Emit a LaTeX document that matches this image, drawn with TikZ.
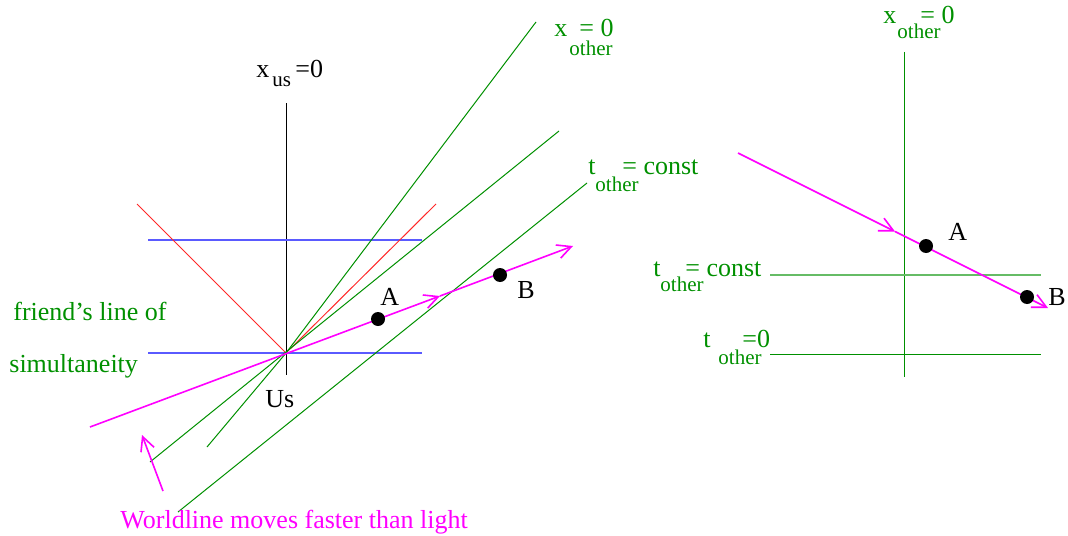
\documentclass[tikz,border=0pt]{standalone}
\usepackage{fontspec}
\setmainfont{Liberation Serif}
\usetikzlibrary{arrows.meta}

\definecolor{figgreen}{RGB}{0,144,0}
\definecolor{figblue}{RGB}{90,90,255}
\definecolor{figred}{RGB}{255,40,40}
\definecolor{figmag}{RGB}{255,0,255}

\tikzset{
  lbl/.style={anchor=base west, inner sep=0pt, font=\fontsize{13}{15}\selectfont},
  sub/.style={anchor=base west, inner sep=0pt, font=\fontsize{10.5}{12}\selectfont},
  gline/.style={figgreen, line width=0.5pt},
  wline/.style={figmag, line width=0.8pt},
  wtip/.style={-{Straight Barb[length=7pt,width=7pt]}},
  dot/.style={circle, fill=black, inner sep=0pt, minimum size=7pt},
}

\begin{document}
\begin{tikzpicture}[x=0.5pt, y=-0.5pt]
  \useasboundingbox (0,0) rectangle (1068,535);

  % ---- left diagram ----
  \coordinate (us0) at (286,353);

  % our time axis
  \draw[black, line width=0.5pt] (286,103) -- (286,375);
  \node[lbl] (xus) at (256,77) {x};
  \node[sub] (xussub) at (272,86) {us};
  \node[lbl] (xuseq) at (295,77) {=0};
  \node[lbl] (usname) at (265,407) {Us};

  % our lines of simultaneity
  \draw[figblue, line width=0.8pt] (148,240) -- (422,240);
  \draw[figblue, line width=0.8pt] (148,353) -- (422,353);

  % light cone
  \draw[figred, line width=0.5pt] (137,204) -- (us0) -- (436,204);

  % friend's axes
  \draw[gline] (207,447) -- (us0) -- (536,22);
  \draw[gline] (150,462) -- (559,131);
  \draw[gline] (178,512) -- (587,183);
  \node[lbl, figgreen] (xo1) at (554,37) {x};
  \node[sub, figgreen] (xo1sub) at (569,56) {other};
  \node[lbl, figgreen] (xo1eq) at (579,37) {= 0};
  \node[lbl, figgreen] (to1) at (588,174) {t};
  \node[sub, figgreen] (to1sub) at (595,191) {other};
  \node[lbl, figgreen] (to1eq) at (622,174) {= const};

  \node[lbl, figgreen] (friend1) at (13,320) {friend's line of};
  \node[lbl, figgreen] (friend2) at (9,372) {simultaneity};

  % worldline
  \coordinate (wl0) at (90,427);
  \coordinate (wlmid) at (440,296);
  \coordinate (wl1) at (573,246);
  \draw[wline, wtip] (wl0) -- (wlmid);
  \draw[wline, wtip] (wlmid) -- (wl1);

  \node[dot] (evA) at (378,319) {};
  \node[dot] (evB) at (500,275) {};
  \node[lbl] (labA) at (380,305) {A};
  \node[lbl] (labB) at (517,298) {B};

  \coordinate (note0) at (163,491);
  \coordinate (note1) at (142,435);
  \draw[wline, wtip] (note0) -- (note1);
  \node[lbl, figmag] (note) at (120,528) {Worldline moves faster than light};

  % ---- right diagram ----
  \draw[gline] (904,52) -- (904,377);
  \node[lbl, figgreen] (xo2) at (883,24) {x};
  \node[sub, figgreen] (xo2sub) at (897,39) {other};
  \node[lbl, figgreen] (xo2eq) at (920,24) {= 0};

  \draw[figgreen!60, line width=1pt] (770,275) -- (1041,275);
  \draw[gline] (770,354) -- (1041,354);
  \node[lbl, figgreen] (to2) at (653,276) {t};
  \node[sub, figgreen] (to2sub) at (660,291) {other};
  \node[lbl, figgreen] (to2eq) at (685,276) {= const};
  \node[lbl, figgreen] (tz2) at (703,347) {t};
  \node[sub, figgreen] (tz2sub) at (718,364) {other};
  \node[lbl, figgreen] (tz2eq) at (742,347) {=0};

  \coordinate (wr0) at (738,153);
  \coordinate (wrmid) at (895,231.5);
  \coordinate (wr1) at (1048,308);
  \draw[wline, wtip] (wr0) -- (wrmid);
  \draw[wline, wtip] (wrmid) -- (wr1);

  \node[dot] (evA2) at (926,246) {};
  \node[dot] (evB2) at (1027,297) {};
  \node[lbl] (labA2) at (948,240) {A};
  \node[lbl] (labB2) at (1048,305) {B};
\end{tikzpicture}
\end{document}
